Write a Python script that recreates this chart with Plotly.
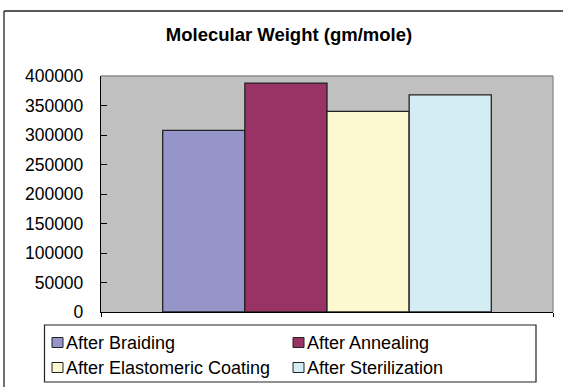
import plotly.graph_objects as go

# Molecular weight of the suture at each processing stage
stages = ["After Braiding", "After Annealing", "After Elastomeric Coating", "After Sterilization"]
mol_weight = [308000, 388000, 340000, 368000]
colors = ["#9595C9", "#993366", "#FCF8CF", "#D4ECF3"]
category = ["Molecular Weight (gm/mole)"]
y_ticks = [0, 50000, 100000, 150000, 200000, 250000, 300000, 350000, 400000]

W, H = 563, 387
ML, MR, MT, MB = 101, 10, 76, 75
pw = W - ML - MR
ph = H - MT - MB


def px(x):
    return (x - ML) / pw


def py(y):
    return (H - MB - y) / ph


FONT = "Liberation Sans, Arial, sans-serif"

fig = go.Figure()
for name, val, col in zip(stages, mol_weight, colors):
    fig.add_trace(go.Bar(
        x=category, y=[val], name=name,
        marker=dict(color=col, line=dict(color="#222222", width=1.3)),
        showlegend=False,
    ))

shapes = []
annotations = []

# outer chart frame: only its left and top edges fall inside the page
frame = dict(color="#222222", width=1.3)
shapes.append(dict(type="line", xref="paper", yref="paper",
                   x0=px(4), x1=px(4), y0=py(H), y1=py(11), line=frame))
shapes.append(dict(type="line", xref="paper", yref="paper",
                   x0=px(4), x1=px(W), y0=py(11), y1=py(11), line=frame))
# grey top and right edges of the plot area
shapes.append(dict(type="line", xref="paper", yref="paper",
                   x0=0, x1=1, y0=1, y1=1, line=dict(color="#8a8a8a", width=1.3)))
shapes.append(dict(type="line", xref="paper", yref="paper",
                   x0=1, x1=1, y0=0, y1=1, line=dict(color="#8a8a8a", width=1.3)))

# legend box
shapes.append(dict(type="rect", xref="paper", yref="paper",
                   x0=px(44.5), x1=px(536), y0=py(382), y1=py(325),
                   line=dict(color="#222222", width=1.2), fillcolor="white"))

col_x = [52, 293]
row_y = [342.5, 367.5]
for i, (name, col) in enumerate(zip(stages, colors)):
    cx = col_x[i % 2]
    cy = row_y[i // 2]
    shapes.append(dict(type="rect", xref="paper", yref="paper",
                       x0=px(cx), x1=px(cx + 11), y0=py(cy + 5), y1=py(cy - 5),
                       line=dict(color="#222222", width=1), fillcolor=col))
    annotations.append(dict(text=name, xref="paper", yref="paper",
                            x=px(cx + 12), y=py(cy), xanchor="left", yanchor="middle",
                            showarrow=False, font=dict(family=FONT, size=18, color="black")))

fig.update_layout(
    width=W, height=H,
    margin=dict(l=ML, r=MR, t=MT, b=MB),
    paper_bgcolor="white",
    plot_bgcolor="#C0C0C0",
    barmode="group",
    bargap=0.273,
    bargroupgap=0,
    title=dict(text="<b>Molecular Weight (gm/mole)</b>", x=px(289), xref="paper",
               y=1 - 35 / H, yanchor="middle", xanchor="center",
               font=dict(family=FONT, size=18.5, color="black")),
    font=dict(family=FONT, size=17, color="black"),
    shapes=shapes,
    annotations=annotations,
    showlegend=False,
)
fig.update_xaxes(
    showticklabels=False, showgrid=False, zeroline=False,
    showline=True, linecolor="black", linewidth=1.3,
    ticks="outside", tickson="boundaries", ticklen=4, tickcolor="black",
    range=[-0.5, 0.5],
)
fig.update_yaxes(
    range=[0, 400000], tickvals=y_ticks, tickformat="d",
    showgrid=False, zeroline=False,
    showline=True, linecolor="black", linewidth=1.3,
    ticks="inside", ticklen=6, tickcolor="black",
    ticklabelstandoff=13,
    tickfont=dict(family=FONT, size=17.5, color="black"),
)

fig.write_html("out.html")
